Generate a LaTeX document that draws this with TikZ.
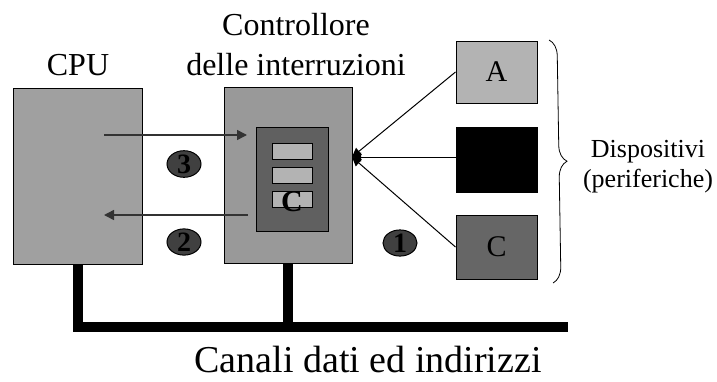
\documentclass[tikz,border=0pt]{standalone}
\usepackage{fontspec}
\setmainfont{Liberation Serif}
\usetikzlibrary{arrows.meta,shapes.geometric,decorations.pathreplacing}
\definecolor{cpugray}{HTML}{A0A0A0}
\definecolor{ctlgray}{HTML}{999999}
\definecolor{innergray}{HTML}{606060}
\definecolor{reggray}{HTML}{B3B3B3}
\definecolor{devc}{HTML}{666666}
\definecolor{numgray}{HTML}{404040}
\definecolor{arrowgray}{HTML}{333333}

\begin{document}
\begin{tikzpicture}[x=1pt, y=-1pt,
    box/.style={draw=black, line width=1pt, inner sep=0pt},
    big/.style={font=\fontsize{32}{40}\selectfont},
    num/.style={ellipse, draw=black, line width=1pt, fill=numgray, minimum width=34pt,
      minimum height=22pt, inner sep=0pt, font=\fontsize{28}{28}\selectfont\bfseries},
    sig/.style={-{Triangle[length=10pt,width=10pt]}, line width=1.5pt, draw=arrowgray},
    irq/.style={-{Triangle[length=9pt,width=9pt]}, line width=1pt},
    bus/.style={line width=10pt}]
  \useasboundingbox (0,0) rectangle (717,381);

  % CPU
  \node[box, fill=cpugray, minimum width=129pt, minimum height=176pt] (cpu) at (77.5,176) {};
  \node[big, anchor=base] (cputitle) at (78,75) {CPU};

  % Controller
  \node[box, fill=ctlgray, minimum width=128pt, minimum height=176pt] (ctrl) at (288,175) {};
  \node[box, fill=innergray, minimum width=72pt, minimum height=104pt] (inner) at (292,179) {};
  \node[box, fill=reggray, minimum width=40pt, minimum height=16pt] (reg1) at (292,151) {};
  \node[box, fill=reggray, minimum width=40pt, minimum height=16pt] (reg2) at (292,175) {};
  \node[box, fill=reggray, minimum width=40pt, minimum height=16pt] (reg3) at (292,199) {};
  \node[font=\fontsize{30}{30}\selectfont\bfseries] (regc) at (292,202) {C};
  \node[big, align=center, anchor=base] (ctrltitle) at (296,75) {Controllore\\delle interruzioni};

  % Devices
  \node[box, fill=reggray, minimum width=81pt, minimum height=62pt,
    font=\fontsize{30}{30}\selectfont] (devA) at (496.5,72) {A};
  \node[box, fill=black, minimum width=81pt, minimum height=65pt,
    font=\fontsize{30}{30}\selectfont] (devB) at (496.5,159.5) {B};
  \node[box, fill=devc, minimum width=81pt, minimum height=64pt,
    font=\fontsize{30}{30}\selectfont] (devC) at (496.5,247) {C};
  \coordinate (irqin) at (352,157);
  \draw[irq] (devA.west) -- (irqin);
  \draw[irq] (devB.west |- irqin) -- (irqin);
  \draw[irq] (devC.west) -- (irqin);

  % Brace
  \draw[line width=0.8pt, decorate, decoration={brace, amplitude=16pt}] (549,40) -- (553,283);
  \node[align=center, font=\fontsize{26}{30}\selectfont] (devtitle) at (648,167) {Dispositivi\\(periferiche)};

  % Handshake
  \coordinate (cpu3) at (104,135);
  \coordinate (ctl3) at (247,135);
  \coordinate (ctl2) at (248,215);
  \coordinate (cpu2) at (104,215);
  \draw[sig] (cpu3) -- (ctl3);
  \draw[sig] (ctl2) -- (cpu2);
  \node[num] (n3) at (184,164) {3};
  \node[num] (n2) at (184,242) {2};
  \node[num] (n1) at (400,243) {1};

  % Bus
  \coordinate (busend) at (568,327);
  \draw[bus] (cpu.south) |- (busend);
  \draw[bus] (ctrl.south) -- (ctrl.south |- busend);
  \node[font=\fontsize{38}{40}\selectfont, anchor=base] (bustitle) at (368,372) {Canali dati ed indirizzi};
\end{tikzpicture}
\end{document}
